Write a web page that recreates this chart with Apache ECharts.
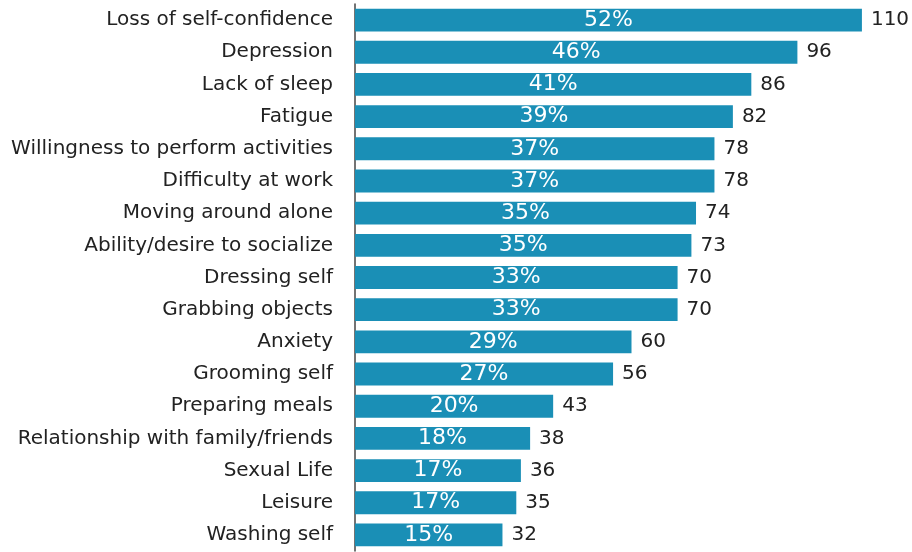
<!DOCTYPE html>
<html><head><meta charset="utf-8">
<script src="https://cdn.jsdelivr.net/npm/echarts@6/dist/echarts.min.js"></script>
<style>html,body{margin:0;padding:0;background:#fff}#c{width:912px;height:552px}</style>
</head><body><div id="c"></div>
<script>
const categories = ["Loss of self-confidence","Depression","Lack of sleep","Fatigue","Willingness to perform activities","Difficulty at work","Moving around alone","Ability/desire to socialize","Dressing self","Grabbing objects","Anxiety","Grooming self","Preparing meals","Relationship with family/friends","Sexual Life","Leisure","Washing self"];
const counts = [110,96,86,82,78,78,74,73,70,70,60,56,43,38,36,35,32];
const percents = [52,46,41,39,37,37,35,35,33,33,29,27,20,18,17,17,15];

const chart = echarts.init(document.getElementById('c'), null, {renderer:'canvas'});
const font = '"DejaVu Sans", sans-serif';
chart.setOption({
  animation:false,
  grid:{left:355, right:4, top:4, height:547},
  xAxis:{type:'value', min:0, max:120, show:false},
  yAxis:{type:'category', data:categories, inverse:true,
    axisLine:{show:true, lineStyle:{color:'#444', width:1.5}},
    axisTick:{show:false},
    axisLabel:{color:'#222', fontSize:20, fontFamily:font, margin:22}},
  series:[
    {type:'bar', data:counts, barCategoryGap:'29%', itemStyle:{color:'#1A8FB6'},
     label:{show:true, position:'inside', color:'#fff', fontSize:22, fontFamily:font,
       formatter:p=>percents[p.dataIndex]+'%'}},
    {type:'bar', data:counts, barGap:'-100%', barCategoryGap:'29%', itemStyle:{color:'rgba(0,0,0,0)'},
     label:{show:true, position:'right', distance:9, color:'#222', fontSize:20, fontFamily:font,
       formatter:p=>p.value}}
  ]
});
</script></body></html>
